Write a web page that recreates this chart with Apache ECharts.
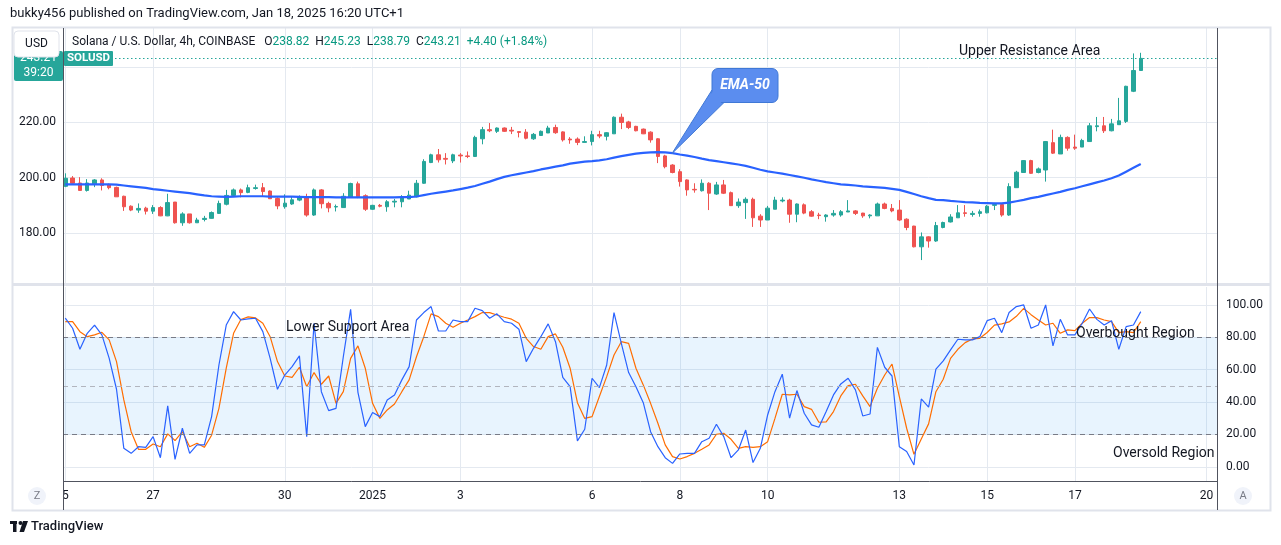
<!DOCTYPE html>
<html>
<head>
<meta charset="utf-8">
<title>SOLUSD 4h</title>
<script src="https://cdn.jsdelivr.net/npm/echarts@6.0.0/dist/echarts.min.js"></script>
<style>
  html, body { margin: 0; padding: 0; background: #fff; }
  #chart { width: 1281px; height: 545px; }
</style>
</head>
<body>
<div id="chart"></div>
<script>
// 4h bars, index 0 = Dec 25 01:00 (UTC+1)
const opens = [
  196.9, 199.9, 198.1, 195.4, 197.8, 199.2, 197.4, 196.5, 193.3, 189.7,
  188.3, 189.0, 187.9, 189.2, 186.2, 191.2, 183.7, 186.9, 183.7, 184.9,
  185.3, 187.1, 190.4, 193.6, 195.6, 194.7, 196.1, 196.4, 195.2, 192.5,
  189.5, 190.5, 191.9, 193.2, 186.5, 195.6, 190.7, 189.4, 189.2, 193.0,
  197.8, 193.5, 188.6, 190.0, 189.5, 191.2, 191.3, 192.3, 193.1, 198.0,
  205.5, 208.3, 207.0, 206.1, 208.2, 207.9, 207.7, 214.1, 217.4, 216.8,
  218.0, 217.2, 216.7, 216.5, 214.1, 215.3, 216.2, 218.2, 216.6, 214.0,
  214.0, 212.8, 213.1, 215.6, 215.0, 215.9, 221.9, 220.2, 218.6, 217.6,
  216.5, 214.1, 207.9, 204.6, 202.2, 199.2, 195.8, 195.3, 198.0, 194.1,
  197.4, 194.6, 189.9, 191.0, 192.2, 186.1, 184.7, 188.6, 191.6, 191.9,
  186.8, 190.2, 187.7, 186.5, 185.9, 186.5, 186.5, 187.6, 188.0, 187.2,
  186.2, 186.2, 190.5, 188.9, 188.3, 185.0, 182.5, 175.0, 178.6, 177.1,
  182.0, 184.0, 185.5, 187.3, 186.7, 187.1, 187.3, 190.0, 190.3, 186.5,
  196.4, 201.9, 206.2, 201.9, 202.8, 212.7, 208.6, 214.6, 211.1, 211.1,
  213.1, 218.5, 218.8, 217.0, 219.2, 220.4, 231.3, 238.82
];
const closes = [
  199.8, 198.0, 195.4, 198.1, 199.2, 197.2, 196.4, 193.1, 189.5, 188.3,
  188.9, 187.9, 189.2, 186.2, 191.0, 183.7, 186.9, 183.7, 184.7, 185.3,
  187.4, 190.7, 193.6, 195.6, 194.6, 196.4, 196.4, 195.0, 192.4, 189.8,
  190.8, 192.0, 193.2, 186.5, 195.6, 190.6, 189.1, 189.6, 193.3, 197.9,
  193.1, 188.6, 190.0, 189.7, 191.3, 191.5, 192.8, 193.7, 198.0, 205.9,
  208.3, 206.5, 206.7, 208.3, 207.9, 207.7, 214.6, 217.4, 217.0, 218.0,
  216.8, 216.9, 216.4, 214.3, 215.7, 216.8, 218.0, 216.3, 213.7, 213.7,
  212.8, 213.1, 215.6, 215.1, 216.3, 221.9, 220.0, 218.2, 217.0, 215.9,
  213.7, 207.7, 204.0, 201.9, 198.6, 195.6, 195.6, 198.0, 194.4, 197.4,
  194.4, 189.9, 191.2, 192.2, 185.5, 184.7, 189.0, 191.9, 191.9, 186.8,
  190.5, 187.2, 186.1, 186.3, 186.5, 187.1, 187.7, 188.0, 187.1, 186.2,
  186.5, 190.5, 188.9, 188.0, 184.7, 182.0, 175.0, 178.6, 177.1, 182.7,
  183.8, 185.8, 187.3, 187.1, 187.1, 187.7, 189.7, 190.3, 186.5, 196.8,
  202.0, 206.2, 201.6, 203.2, 213.1, 208.9, 214.6, 210.7, 210.7, 213.5,
  218.8, 218.8, 217.0, 219.5, 220.6, 233.1, 238.81, 243.21
];
const lows = [
  196.6, 197.8, 195.4, 195.0, 196.6, 195.4, 195.8, 193.1, 188.0, 187.9,
  187.3, 186.7, 186.9, 186.1, 186.1, 183.4, 182.6, 183.4, 183.7, 184.2,
  185.2, 186.9, 190.0, 193.2, 192.9, 194.4, 195.7, 193.3, 192.3, 188.6,
  188.8, 190.2, 191.5, 185.9, 186.2, 188.9, 187.5, 187.8, 189.2, 192.8,
  192.6, 188.0, 188.4, 189.3, 187.7, 189.3, 189.3, 192.3, 192.9, 197.8,
  205.3, 205.5, 204.8, 205.3, 205.5, 207.1, 207.5, 212.1, 216.5, 216.2,
  216.6, 215.8, 214.6, 213.9, 213.7, 215.3, 216.2, 215.9, 213.1, 212.3,
  211.8, 212.8, 211.7, 214.3, 213.5, 215.9, 217.6, 217.6, 216.8, 215.8,
  212.7, 205.3, 203.4, 201.6, 196.8, 193.5, 194.6, 195.0, 188.3, 193.8,
  194.1, 189.9, 189.1, 185.1, 182.2, 182.2, 184.7, 188.6, 191.1, 183.7,
  183.9, 186.8, 185.9, 185.0, 184.1, 185.9, 185.9, 187.6, 186.5, 185.5,
  185.3, 186.2, 188.6, 187.5, 184.3, 181.0, 174.8, 170.2, 174.7, 176.8,
  181.7, 183.8, 185.5, 185.9, 185.9, 185.9, 187.1, 188.3, 185.9, 186.2,
  196.4, 201.9, 201.4, 201.6, 198.6, 208.6, 208.6, 209.8, 210.1, 211.1,
  213.1, 216.8, 216.2, 216.8, 219.2, 219.8, 231.0, 238.79
];
const highs = [
  201.6, 200.6, 200.2, 199.5, 199.5, 199.8, 197.9, 196.8, 193.5, 190.0,
  190.7, 189.5, 190.1, 189.7, 194.2, 191.2, 187.5, 186.9, 185.5, 186.2,
  187.8, 191.7, 195.6, 196.1, 196.1, 197.5, 197.5, 198.1, 195.4, 192.9,
  194.0, 193.1, 193.6, 194.2, 196.1, 195.9, 191.3, 190.3, 194.4, 198.2,
  198.6, 194.0, 190.2, 190.5, 191.9, 192.3, 193.7, 195.3, 199.2, 206.7,
  208.7, 210.4, 208.9, 208.7, 208.9, 209.5, 215.2, 218.4, 219.8, 218.2,
  218.2, 218.4, 216.8, 217.6, 216.2, 217.1, 218.8, 219.2, 216.8, 214.7,
  214.6, 215.0, 217.0, 217.0, 216.5, 222.2, 223.2, 220.6, 218.8, 217.8,
  216.8, 214.3, 208.3, 204.9, 203.1, 199.4, 198.0, 199.4, 198.4, 198.5,
  199.2, 195.0, 192.5, 192.9, 192.8, 186.8, 189.8, 193.1, 192.9, 192.4,
  190.7, 190.7, 188.3, 187.3, 186.8, 188.3, 188.3, 191.9, 188.3, 187.3,
  186.8, 191.0, 191.0, 190.5, 191.9, 185.3, 182.6, 180.2, 178.8, 184.0,
  184.1, 186.8, 190.1, 190.1, 188.0, 188.5, 190.1, 190.9, 190.7, 198.0,
  202.5, 206.4, 206.5, 203.7, 213.3, 217.4, 215.6, 215.0, 215.6, 214.1,
  219.8, 222.0, 222.0, 221.3, 228.9, 233.3, 245.0, 245.23
];
const ema50 = [
  197.6, 197.6, 197.6, 197.6, 197.6, 197.6, 197.6, 197.5, 197.2, 196.9,
  196.6, 196.3, 195.9, 195.6, 195.3, 195.0, 194.7, 194.4, 194.0, 193.6,
  193.3, 193.2, 193.1, 193.2, 193.3, 193.3, 193.3, 193.3, 193.2, 193.2,
  193.2, 193.2, 193.1, 193.0, 193.0, 193.0, 193.0, 192.9, 192.9, 192.9,
  192.9, 192.9, 192.9, 192.9, 192.9, 192.9, 193.0, 193.0, 193.2, 193.7,
  194.2, 194.6, 195.0, 195.4, 195.9, 196.4, 197.0, 197.8, 198.6, 199.5,
  200.3, 200.9, 201.4, 201.9, 202.4, 203.0, 203.5, 204.0, 204.5, 205.1,
  205.5, 205.8, 206.0, 206.3, 206.7, 207.3, 207.8, 208.3, 208.7, 209.0,
  209.2, 209.3, 209.2, 208.9, 208.4, 208.0, 207.5, 206.9, 206.4, 206.0,
  205.6, 205.2, 204.8, 204.3, 203.6, 202.9, 202.3, 201.9, 201.5, 201.0,
  200.5, 200.0, 199.4, 198.9, 198.4, 198.0, 197.6, 197.4, 197.2, 196.9,
  196.7, 196.5, 196.3, 196.0, 195.6, 194.9, 194.1, 193.3, 192.6, 192.0,
  191.9, 191.6, 191.4, 191.2, 191.1, 190.9, 190.8, 190.7, 190.7, 191.0,
  191.5, 192.0, 192.6, 193.1, 193.7, 194.3, 194.9, 195.6, 196.2, 196.9,
  197.6, 198.3, 199.0, 199.8, 200.8, 202.2, 203.6, 205.0
];
const stochK = [
  91.8, 85.6, 72.6, 82.5, 87.6, 81.5, 67.0, 47.9, 11.4, 8.3,
  12.4, 12.0, 18.6, 5.6, 37.6, 4.6, 23.8, 8.3, 13.5, 13.5,
  31.0, 62.9, 87.6, 95.9, 90.7, 91.4, 91.8, 83.5, 67.0, 47.9,
  56.7, 61.9, 68.5, 18.6, 88.7, 46.4, 34.7, 36.1, 68.0, 97.3,
  46.0, 24.8, 33.5, 31.0, 41.3, 44.4, 53.7, 61.9, 90.7, 95.3,
  99.0, 83.9, 83.9, 90.7, 89.7, 89.7, 98.0, 96.5, 91.8, 94.5,
  89.7, 88.7, 85.0, 65.0, 73.2, 80.4, 88.3, 77.3, 55.3, 49.5,
  16.0, 23.2, 54.7, 48.9, 62.9, 95.3, 76.3, 58.2, 49.5, 39.6,
  21.7, 12.4, 5.6, 2.1, 7.9, 8.3, 8.3, 15.5, 17.6, 26.3,
  18.6, 5.6, 10.4, 22.7, 2.6, 11.4, 32.0, 46.4, 57.2, 30.0,
  47.1, 33.1, 25.9, 24.4, 34.1, 44.4, 51.2, 54.7, 47.5, 31.4,
  32.6, 73.8, 61.5, 56.1, 12.4, 9.4, 1.1, 41.9, 36.8, 60.3,
  65.4, 72.2, 78.8, 78.4, 78.4, 80.4, 90.3, 91.8, 82.9, 95.3,
  99.0, 100.0, 85.6, 87.6, 100.0, 74.7, 91.1, 81.5, 81.5, 88.7,
  97.5, 91.1, 87.6, 90.3, 72.6, 86.6, 87.6, 95.9
];
const stochD = [
  89.7, 89.7, 83.5, 80.4, 81.5, 83.1, 78.4, 65.0, 41.3, 21.7,
  10.8, 10.8, 14.1, 12.4, 20.3, 16.2, 21.7, 12.4, 14.5, 12.0,
  19.5, 36.1, 60.9, 82.5, 91.0, 92.6, 92.0, 88.7, 80.4, 65.0,
  56.1, 55.3, 61.5, 49.5, 58.2, 51.0, 56.1, 39.2, 46.4, 67.0,
  74.7, 60.9, 39.2, 29.9, 35.1, 38.8, 46.4, 53.7, 68.0, 80.4,
  94.5, 92.8, 88.7, 86.2, 88.7, 90.7, 92.8, 95.3, 95.3, 93.8,
  92.4, 91.2, 88.7, 79.4, 74.3, 72.6, 80.4, 82.1, 73.9, 60.9,
  39.6, 29.9, 31.0, 43.4, 55.7, 69.1, 77.3, 76.3, 60.9, 50.6,
  39.2, 26.9, 13.5, 6.3, 4.8, 6.3, 8.3, 10.8, 13.5, 20.1,
  20.7, 17.0, 11.4, 12.4, 12.0, 12.4, 15.5, 29.9, 44.8, 44.4,
  44.8, 37.2, 35.5, 27.5, 27.7, 34.1, 43.8, 50.2, 51.0, 43.8,
  37.2, 48.5, 56.7, 63.5, 43.4, 23.8, 7.7, 17.2, 26.5, 46.4,
  54.1, 67.0, 72.6, 76.7, 79.0, 79.4, 83.0, 87.5, 88.3, 89.5,
  93.0, 97.9, 94.0, 90.7, 87.6, 88.7, 82.5, 84.6, 84.1, 88.7,
  92.2, 92.2, 90.7, 89.7, 82.9, 83.5, 82.9, 89.7
];
// day boundaries on the time axis (bar index) and their labels
const dayTickIdx = [0, 12, 30, 42, 54, 72, 84, 96, 114, 126, 138, 156];
const dayTickLabels = ['5', '27', '30', '2025', '3', '6', '8', '10', '13', '15', '17', '20'];
const priceTicks = [180, 200, 220, 240];
const stochTicks = [0, 20, 40, 60, 80, 100];
const stochLevels = [80, 50, 20];

const FONT = 'Roboto, "Noto Sans", sans-serif';
const TXT = '#131722';
const UP = '#26a69a';
const DOWN = '#ef5350';
const GRIDLINE = '#e4e9f0';

const last = closes.length - 1;
const lastPrice = closes[last];
const chg = closes[last] - closes[last - 1];
const chgPct = chg / closes[last - 1] * 100;

const candleData = opens.map((o, i) => [i, o, closes[i], lows[i], highs[i]]);
const emaData = ema50.map((v, i) => [i, v]);
const kData = stochK.map((v, i) => [i, v]);
const dData = stochD.map((v, i) => [i, v]);

const chart = echarts.init(document.getElementById('chart'));

const xBase = {
  type: 'value',
  min: -0.314,
  max: 157.42,
  axisLine: { show: false },
  axisTick: { show: false, customValues: dayTickIdx },
  splitLine: { show: true, lineStyle: { color: GRIDLINE, width: 1 } }
};

const headerRich = '{n|Solana / U.S. Dollar, 4h, COINBASE}   '
  + '{n|O}{v|' + opens[last].toFixed(2) + '}  '
  + '{n|H}{v|' + highs[last].toFixed(2) + '}  '
  + '{n|L}{v|' + lows[last].toFixed(2) + '}  '
  + '{n|C}{v|' + closes[last].toFixed(2) + '}  '
  + '{v|' + (chg >= 0 ? '+' : '') + chg.toFixed(2) + ' (' + (chg >= 0 ? '+' : '') + chgPct.toFixed(2) + '%)}';

const option = {
  animation: false,
  backgroundColor: '#ffffff',
  textStyle: { fontFamily: FONT },
  grid: [
    { left: 63, right: 64, top: 28, height: 255 },
    { left: 63, right: 64, top: 287, height: 194 }
  ],
  xAxis: [
    Object.assign({}, xBase, { gridIndex: 0, axisLabel: { show: false } }),
    Object.assign({}, xBase, {
      gridIndex: 1,
      axisLabel: {
        show: true,
        customValues: dayTickIdx,
        margin: 9,
        color: TXT,
        fontSize: 12,
        fontFamily: FONT,
        formatter: v => dayTickLabels[dayTickIdx.indexOf(Math.round(v))] || ''
      }
    })
  ],
  yAxis: [
    {
      type: 'value', gridIndex: 0, position: 'left',
      min: 161.9, max: 254.2,
      axisLine: { show: false },
      axisTick: { show: false, customValues: priceTicks },
      axisLabel: {
        customValues: priceTicks, margin: 7, color: TXT, fontSize: 12, fontFamily: FONT,
        formatter: v => v.toFixed(2)
      },
      splitLine: { lineStyle: { color: GRIDLINE } }
    },
    {
      type: 'value', gridIndex: 1, position: 'right',
      min: -8.8, max: 111.1,
      axisLine: { show: false },
      axisTick: { show: false, customValues: stochTicks },
      axisLabel: {
        customValues: stochTicks, margin: 9, color: TXT, fontSize: 12, fontFamily: FONT,
        formatter: v => v.toFixed(2)
      },
      splitLine: { lineStyle: { color: GRIDLINE } }
    }
  ],
  series: [
    {
      name: 'SOLUSD',
      type: 'candlestick',
      xAxisIndex: 0, yAxisIndex: 0,
      barWidth: 4,
      data: candleData,
      itemStyle: {
        color: UP, color0: DOWN,
        borderColor: UP, borderColor0: DOWN,
        borderWidth: 1
      },
      markLine: {
        silent: true,
        symbol: ['none', 'none'],
        label: { show: false },
        lineStyle: { color: UP, type: [1.5, 2.5], width: 1 },
        data: [{ yAxis: lastPrice }]
      }
    },
    {
      name: 'EMA-50',
      type: 'line',
      xAxisIndex: 0, yAxisIndex: 0,
      data: emaData,
      showSymbol: false,
      lineStyle: { color: '#2962ff', width: 2.2 },
      z: 3
    },
    {
      name: '%K',
      type: 'line',
      xAxisIndex: 1, yAxisIndex: 1,
      data: kData,
      showSymbol: false,
      lineStyle: { color: '#2962ff', width: 1.2 },
      markArea: {
        silent: true,
        itemStyle: { color: 'rgba(33,150,243,0.1)' },
        data: [[{ yAxis: stochLevels[2] }, { yAxis: stochLevels[0] }]]
      },
      markLine: {
        silent: true,
        symbol: ['none', 'none'],
        label: { show: false },
        data: [
          { yAxis: stochLevels[0], lineStyle: { color: '#787b86', type: [5, 4], width: 1 } },
          { yAxis: stochLevels[1], lineStyle: { color: '#b2b5be', type: [5, 4], width: 1 } },
          { yAxis: stochLevels[2], lineStyle: { color: '#787b86', type: [5, 4], width: 1 } }
        ]
      },
      z: 4
    },
    {
      name: '%D',
      type: 'line',
      xAxisIndex: 1, yAxisIndex: 1,
      data: dData,
      showSymbol: false,
      lineStyle: { color: '#ff6d00', width: 1.2 },
      z: 3
    }
  ],
  graphic: [
    // frame and pane borders
    { type: 'rect', z: 90, silent: true, shape: { x: 12.5, y: 27.5, width: 1258, height: 483 },
      style: { fill: 'none', stroke: '#e0e3eb', lineWidth: 2 } },
    { type: 'rect', z: 90, silent: true, shape: { x: 12, y: 283, width: 1259, height: 3 },
      style: { fill: '#e0e3eb' } },
    { type: 'line', z: 91, silent: true, shape: { x1: 63.5, y1: 28, x2: 63.5, y2: 510 },
      style: { stroke: '#50535e', lineWidth: 1 } },
    { type: 'line', z: 91, silent: true, shape: { x1: 1217.5, y1: 28, x2: 1217.5, y2: 510 },
      style: { stroke: '#50535e', lineWidth: 1 } },
    { type: 'line', z: 91, silent: true, shape: { x1: 63, y1: 481.5, x2: 1218, y2: 481.5 },
      style: { stroke: '#50535e', lineWidth: 1 } },

    // top caption
    { type: 'text', z: 100, x: 10, y: 14,
      style: { text: 'bukky456 published on TradingView.com, Jan 18, 2025 16:20 UTC+1',
        fill: TXT, fontSize: 13, fontFamily: FONT, verticalAlign: 'middle' } },

    // last price tag on the left scale
    { type: 'rect', z: 100, shape: { x: 14, y: 51, width: 49, height: 30, r: 2 }, style: { fill: UP } },
    { type: 'text', z: 101, x: 38.5, y: 58,
      style: { text: lastPrice.toFixed(2), fill: '#fff', fontSize: 12, fontFamily: FONT,
        align: 'center', verticalAlign: 'middle' } },
    { type: 'text', z: 101, x: 38.5, y: 73,
      style: { text: '39:20', fill: '#fff', fontSize: 12, fontFamily: FONT,
        align: 'center', verticalAlign: 'middle' } },
    { type: 'rect', z: 102, shape: { x: 14, y: 31, width: 45, height: 26, r: 4 },
      style: { fill: '#fff', stroke: '#e0e3eb', lineWidth: 1 } },
    { type: 'text', z: 103, x: 36.5, y: 44,
      style: { text: 'USD', fill: TXT, fontSize: 12, fontFamily: FONT,
        align: 'center', verticalAlign: 'middle' } },
    { type: 'rect', z: 100, shape: { x: 64, y: 51, width: 49, height: 15, r: 1 }, style: { fill: UP } },
    { type: 'text', z: 101, x: 88.5, y: 58.5,
      style: { text: 'SOLUSD', fill: '#fff', fontSize: 11.5, fontWeight: 'bold', fontFamily: FONT,
        align: 'center', verticalAlign: 'middle' } },

    // legend line
    { type: 'text', z: 100, x: 72, y: 42,
      style: { text: headerRich, fontSize: 12, fontFamily: FONT, verticalAlign: 'middle', fill: TXT,
        rich: {
          n: { fill: TXT, fontSize: 12, fontFamily: FONT },
          v: { fill: '#089981', fontSize: 12, fontFamily: FONT }
        } } },

    // EMA-50 callout
    { type: 'polygon', z: 100, silent: true,
      shape: { points: [[712, 90], [724, 102.5], [672, 153.5]] },
      style: { fill: '#5b8def', stroke: '#3f78d6', lineWidth: 1 } },
    { type: 'rect', z: 101, silent: true, shape: { x: 712, y: 68.5, width: 66, height: 34, r: 6 },
      style: { fill: '#5b8def', stroke: '#3f78d6', lineWidth: 1 } },
    { type: 'polygon', z: 102, silent: true,
      shape: { points: [[713, 91], [722, 101.5], [676, 148]] },
      style: { fill: '#5b8def' } },
    { type: 'text', z: 103, x: 745, y: 85.5,
      style: { text: 'EMA-50', fill: '#fff', fontSize: 14, fontStyle: 'italic', fontWeight: 'bold',
        fontFamily: FONT, align: 'center', verticalAlign: 'middle' } },

    // text notes
    { type: 'text', z: 100, x: 959, y: 51,
      style: { text: 'Upper Resistance Area', fill: TXT, fontSize: 14, fontFamily: FONT, verticalAlign: 'middle' } },
    { type: 'text', z: 100, x: 286, y: 327,
      style: { text: 'Lower Support Area', fill: TXT, fontSize: 14, fontFamily: FONT, verticalAlign: 'middle' } },
    { type: 'text', z: 100, x: 1076, y: 333,
      style: { text: 'Overbought Region', fill: TXT, fontSize: 14, fontFamily: FONT, verticalAlign: 'middle' } },
    { type: 'text', z: 100, x: 1113, y: 453,
      style: { text: 'Oversold Region', fill: TXT, fontSize: 14, fontFamily: FONT, verticalAlign: 'middle' } },

    // scale buttons
    { type: 'circle', z: 100, shape: { cx: 37, cy: 496, r: 9 }, style: { fill: '#f0f3fa' } },
    { type: 'text', z: 101, x: 37, y: 496.5,
      style: { text: 'Z', fill: '#787b86', fontSize: 11, fontFamily: FONT, align: 'center', verticalAlign: 'middle' } },
    { type: 'circle', z: 100, shape: { cx: 1243, cy: 496, r: 9 }, style: { fill: '#f0f3fa' } },
    { type: 'text', z: 101, x: 1243, y: 496.5,
      style: { text: 'A', fill: '#787b86', fontSize: 11, fontFamily: FONT, align: 'center', verticalAlign: 'middle' } },

    // footer logo
    { type: 'rect', z: 100, shape: { x: 10, y: 521, width: 7, height: 3 }, style: { fill: TXT } },
    { type: 'rect', z: 100, shape: { x: 13, y: 521, width: 3.5, height: 11 }, style: { fill: TXT } },
    { type: 'circle', z: 100, shape: { cx: 20.5, cy: 523, r: 2 }, style: { fill: TXT } },
    { type: 'polygon', z: 100, shape: { points: [[23, 521], [28, 521], [24, 532], [19.5, 532]] }, style: { fill: TXT } },
    { type: 'text', z: 100, x: 31, y: 527,
      style: { text: 'TradingView', fill: TXT, fontSize: 13, fontWeight: 500, fontFamily: FONT, verticalAlign: 'middle' } }
  ]
};

chart.setOption(option);
window.addEventListener('resize', () => chart.resize());
</script>
</body>
</html>
